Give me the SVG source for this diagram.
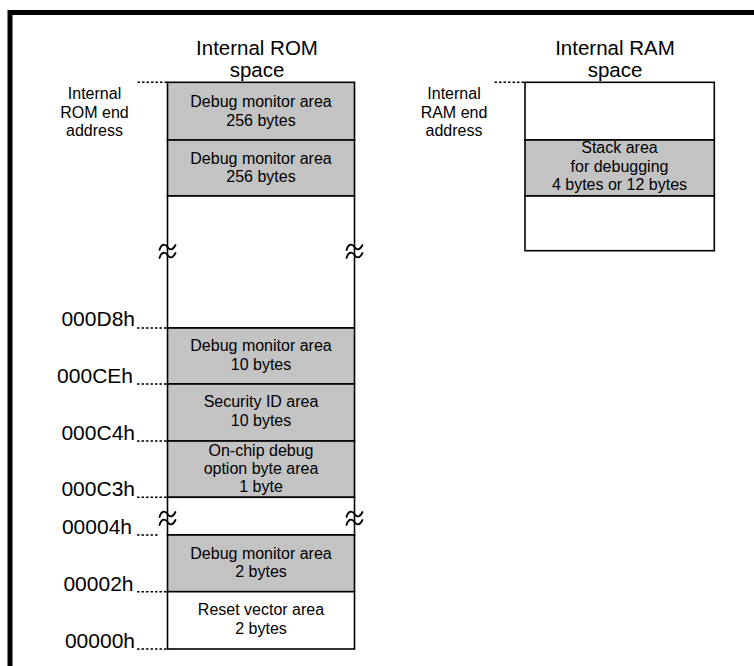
<svg xmlns="http://www.w3.org/2000/svg" width="754" height="666" viewBox="0 0 754 666">
<style>
  text { font-family: "Liberation Sans", Arial, sans-serif; fill: #000; }
  .t { font-size: 20.5px; text-anchor: middle; }
  .l { font-size: 16px; text-anchor: middle; }
  .a { font-size: 21px; text-anchor: end; }
  .box { stroke: #000; stroke-width: 1.6; }
  .g { fill: #c3c3c3; }
  .w { fill: #fff; }
  .dot { stroke: #000; stroke-width: 1.6; stroke-dasharray: 2.5 2; fill: none; }
  .brk { stroke: #000; stroke-width: 1.8; fill: none; stroke-linecap: round; }
</style>
<defs>
  <g id="brk">
    <path class="brk" d="M -8,-1 C -6,-8 -2,-7 0,-4 C 2,-1 5,0 8,-6"/>
    <path class="brk" d="M -8,7 C -6,0 -2,1 0,4 C 2,7 5,8 8,2"/>
  </g>
</defs>
<rect width="754" height="666" fill="#fff"/>
<path d="M 10,670 V 12.5 H 760" fill="none" stroke="#000" stroke-width="5"/>

<g id="titles">
  <text class="t" x="257" y="55">Internal ROM</text>
  <text class="t" x="257" y="77">space</text>
  <text class="t" x="615" y="55">Internal RAM</text>
  <text class="t" x="615" y="77">space</text>
</g>

<g id="rom-end-label">
  <text class="l" x="94.5" y="99">Internal</text>
  <text class="l" x="94.5" y="117.5">ROM end</text>
  <text class="l" x="94.5" y="136">address</text>
</g>
<g id="ram-end-label">
  <text class="l" x="454" y="99">Internal</text>
  <text class="l" x="454" y="117.5">RAM end</text>
  <text class="l" x="454" y="136">address</text>
</g>

<g id="rom-space">
  <g id="rom-dbg256a">
    <rect class="box g" x="167.5" y="82.3" width="187" height="57.7"/>
    <text class="l" x="261" y="107">Debug monitor area</text>
    <text class="l" x="261" y="125.5">256 bytes</text>
  </g>
  <g id="rom-dbg256b">
    <rect class="box g" x="167.5" y="140" width="187" height="56"/>
    <text class="l" x="261" y="163.5">Debug monitor area</text>
    <text class="l" x="261" y="182">256 bytes</text>
  </g>
  <g id="rom-free-upper">
    <rect class="box w" x="167.5" y="196" width="187" height="132"/>
  </g>
  <g id="rom-dbg10">
    <rect class="box g" x="167.5" y="328" width="187" height="56"/>
    <text class="l" x="261" y="350.5">Debug monitor area</text>
    <text class="l" x="261" y="370">10 bytes</text>
  </g>
  <g id="rom-secid">
    <rect class="box g" x="167.5" y="384" width="187" height="57"/>
    <text class="l" x="261" y="407">Security ID area</text>
    <text class="l" x="261" y="425.5">10 bytes</text>
  </g>
  <g id="rom-ocd">
    <rect class="box g" x="167.5" y="441" width="187" height="56.3"/>
    <text class="l" x="261" y="455.5">On-chip debug</text>
    <text class="l" x="261" y="473.5">option byte area</text>
    <text class="l" x="261" y="492">1 byte</text>
  </g>
  <g id="rom-free-lower">
    <rect class="box w" x="167.5" y="497.3" width="187" height="37.7"/>
  </g>
  <g id="rom-dbg2">
    <rect class="box g" x="167.5" y="535" width="187" height="56.7"/>
    <text class="l" x="261" y="558.5">Debug monitor area</text>
    <text class="l" x="261" y="577">2 bytes</text>
  </g>
  <g id="rom-reset">
    <rect class="box w" x="167.5" y="591.7" width="187" height="57.3"/>
    <text class="l" x="261" y="614.5">Reset vector area</text>
    <text class="l" x="261" y="633.5">2 bytes</text>
  </g>
  <g id="breaks">
    <use href="#brk" x="167.5" y="251"/>
    <use href="#brk" x="354.5" y="251"/>
    <use href="#brk" x="167.5" y="518"/>
    <use href="#brk" x="354.5" y="518"/>
  </g>
</g>

<g id="ram-space">
  <g id="ram-top">
    <rect class="box w" x="525" y="82.3" width="189.3" height="57.7"/>
  </g>
  <g id="ram-stack">
    <rect class="box g" x="525" y="140" width="189.3" height="56"/>
    <text class="l" x="619.5" y="153">Stack area</text>
    <text class="l" x="619.5" y="171.5">for debugging</text>
    <text class="l" x="619.5" y="190">4 bytes or 12 bytes</text>
  </g>
  <g id="ram-bottom">
    <rect class="box w" x="525" y="196" width="189.3" height="54.7"/>
  </g>
</g>

<g id="address-labels">
  <text class="a" x="135" y="326">000D8h</text>
  <text class="a" x="133" y="383">000CEh</text>
  <text class="a" x="135" y="440">000C4h</text>
  <text class="a" x="135" y="496">000C3h</text>
  <text class="a" x="132" y="533.5">00004h</text>
  <text class="a" x="133.5" y="590.5">00002h</text>
  <text class="a" x="135" y="648">00000h</text>
</g>

<g id="connectors">
  <line class="dot" x1="137.5" y1="82.3" x2="167" y2="82.3"/>
  <line class="dot" x1="494.5" y1="82.3" x2="524.5" y2="82.3"/>
  <line class="dot" x1="137" y1="328" x2="167" y2="328"/>
  <line class="dot" x1="137" y1="384" x2="167" y2="384"/>
  <line class="dot" x1="137" y1="441" x2="167" y2="441"/>
  <line class="dot" x1="137" y1="497.3" x2="167" y2="497.3"/>
  <line class="dot" x1="137" y1="535" x2="158" y2="535"/>
  <line class="dot" x1="137" y1="591.7" x2="167" y2="591.7"/>
  <line class="dot" x1="137" y1="649" x2="167" y2="649"/>
</g>
</svg>
